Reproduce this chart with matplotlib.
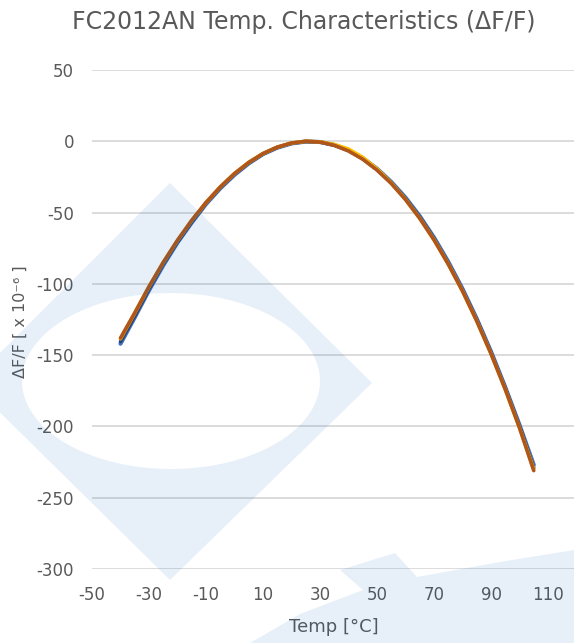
import numpy as np
import matplotlib
matplotlib.use("Agg")
import matplotlib.pyplot as plt
from matplotlib.path import Path
from matplotlib.patches import PathPatch, Polygon

plt.rcParams["axes.unicode_minus"] = False

# ---------------- data ----------------
temps = [-40, -35, -30, -25, -20, -15, -10, -5, 0, 5, 10, 15, 20, 25, 30,
         35, 40, 45, 50, 55, 60, 65, 70, 75, 80, 85, 90, 95, 100, 105]

blue_vals = [-142, -123.5, -104.5, -87, -71, -57, -44, -33, -23.5, -15.5, -9, -4.5,
             -1.5, -0.2, -0.5, -2.6, -6.2, -11.8, -19.2, -28.5, -39.5, -52.5,
             -67.5, -84.5, -103.5, -124.5, -147.5, -172.5, -199, -227]
navy_vals = [-140.5, -122.5, -103.5, -86, -70.5, -56.5, -43.5, -32.5, -23, -15.2, -8.8, -4.3,
             -1.4, -0.1, -0.5, -2.7, -6.5, -12.2, -19.8, -29, -40.2, -53.3,
             -68.3, -85.5, -104.3, -125.3, -148.3, -173.3, -200, -229]
yellow_vals = [-138.5, -120.5, -102, -85, -69.5, -55.5, -43, -32, -22.6, -14.8, -8.6, -4.1,
               -1.2, 0.0, -0.4, -2.2, -5.4, -11.3, -19.4, -29.2, -40.7, -54,
               -69, -86, -105, -126, -149, -174, -201, -230]
brown_vals = [-138, -120.3, -101.9, -84.9, -69.4, -55.4, -42.9, -32.0, -22.6, -14.8, -8.6, -4.1,
              -1.2, 0.0, -0.55, -2.8, -6.8, -12.6, -20.2, -29.6, -40.9, -54.1,
              -69.2, -86.2, -105.1, -126.1, -149.0, -174.0, -201.0, -231]

x_ticks = [-50, -30, -10, 10, 30, 50, 70, 90, 110]
y_ticks = [-300, -250, -200, -150, -100, -50, 0, 50]

title = "FC2012AN Temp. Characteristics (\u0394F/F)"
x_label = "Temp [\u00b0C]"
y_label = "\u0394F/F [ x 10\u207b\u2076 ]"

# ---------------- figure ----------------
W, H = 574, 643
fig = plt.figure(figsize=(W / 100, H / 100), dpi=100, facecolor="white")

px_per_unit = (548 - 92) / 160.0
x_right = -50 + (W - 92) / px_per_unit
ax = fig.add_axes([92 / W, 1 - 569 / H, (W - 92) / W, (569 - 70) / H])
ax.set_xlim(-50, x_right)
ax.set_ylim(-300, 50)

text_color = "#595959"
for s in ax.spines.values():
    s.set_visible(False)
ax.set_yticks(y_ticks)
ax.set_xticks(x_ticks)
ax.tick_params(axis="both", length=0, labelsize=12, colors=text_color)
ax.tick_params(axis="y", pad=13)
ax.tick_params(axis="x", pad=12)
ax.yaxis.grid(True, color="#d9d9d9", linewidth=1.3)
ax.xaxis.grid(False)
ax.set_axisbelow(True)

ax.plot(temps, blue_vals, color="#4472C4", lw=3.0, solid_capstyle="round", zorder=3)
ax.plot(temps, navy_vals, color="#264478", lw=2.6, solid_capstyle="round", zorder=4)
ax.plot(temps, yellow_vals, color="#FFC000", lw=2.6, solid_capstyle="round", zorder=5)
ax.plot(temps, brown_vals, color="#B0561A", lw=2.6, solid_capstyle="round", zorder=6)

fig.text(334 / W, 1 - 627 / H, x_label, ha="center", va="center",
         fontsize=13, color=text_color)
fig.text(20 / W, 1 - 322 / H, y_label, ha="center", va="center",
         rotation=90, fontsize=11.5, color=text_color)
fig.text(304 / W, 1 - 22 / H, title, ha="center", va="center",
         fontsize=17, color=text_color)

# ---------------- watermark overlay ----------------
ov = fig.add_axes([0, 0, 1, 1], zorder=10)
ov.set_xlim(0, W)
ov.set_ylim(H, 0)
ov.axis("off")
ov.patch.set_alpha(0)
wm_color = (0.0, 0.39, 0.75)
wm_alpha = 0.095

dia = [(170, 183), (-30, 383), (170, 580), (372, 383), (170, 183)]
t = np.linspace(0, 2 * np.pi, 120)
ex = 171 + 149 * np.cos(t)
ey = 381 + 88 * np.sin(t)
ell = list(zip(ex, ey))
verts = dia + ell + [ell[0]]
codes = ([Path.MOVETO] + [Path.LINETO] * 3 + [Path.CLOSEPOLY]
         + [Path.MOVETO] + [Path.LINETO] * (len(ell) - 1) + [Path.CLOSEPOLY])
ov.add_patch(PathPatch(Path(verts, codes), facecolor=wm_color, alpha=wm_alpha,
                       edgecolor="none"))
band = [(250, 643), (300, 614), (363, 590), (340, 570), (395, 553), (417, 577),
        (500, 562), (574, 550), (574, 643)]
ov.add_patch(Polygon(band, closed=True, facecolor=wm_color, alpha=wm_alpha,
                     edgecolor="none"))

fig.savefig("out.png", dpi=100, facecolor="white")
